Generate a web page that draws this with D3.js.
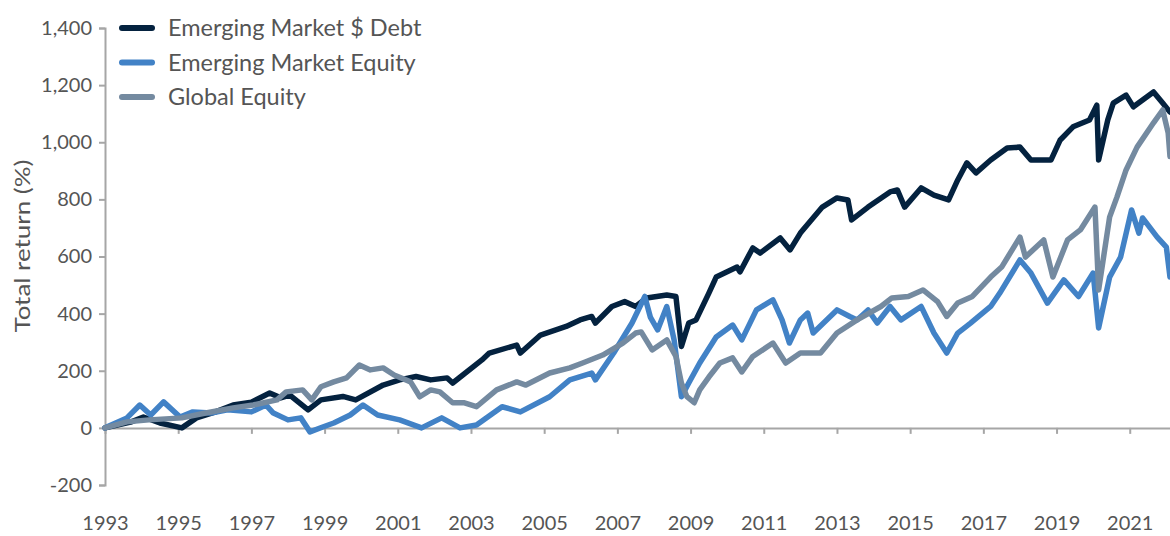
<!DOCTYPE html>
<html>
<head>
<meta charset="utf-8">
<script src="https://cdn.jsdelivr.net/npm/d3@7"></script>
<style>
  body { margin: 0; background: #fff; }
  svg { display: block; font-family: Lato, "Open Sans", sans-serif; }
</style>
</head>
<body>
<div id="container"></div>
<script>
const seriesNames = ["Emerging Market $ Debt", "Emerging Market Equity", "Global Equity"];
const seriesColors = ["#04223f", "#4282c6", "#748aa0"];

const yTicks = [-200, 0, 200, 400, 600, 800, 1000, 1200, 1400];
const xTicks = [1993, 1995, 1997, 1999, 2001, 2003, 2005, 2007, 2009, 2011, 2013, 2015, 2017, 2019, 2021];

// [year, total return %]
const emDebt = [
  [1993.0, 0], [1993.7, 20], [1994.05, 38], [1994.5, 17], [1995.1, 0], [1995.5, 35],
  [1996.0, 55], [1996.5, 80], [1997.0, 90], [1997.5, 122], [1997.8, 105], [1998.05, 115],
  [1998.55, 63], [1998.9, 98], [1999.5, 110], [1999.85, 98], [2000.6, 150], [2001.05, 168],
  [2001.5, 180], [2001.9, 168], [2002.35, 175], [2002.5, 157], [2003.3, 238], [2003.5, 262],
  [2004.25, 290], [2004.35, 262], [2004.9, 325], [2005.6, 355], [2005.98, 378], [2006.3, 390],
  [2006.4, 367], [2006.85, 425], [2007.2, 442], [2007.5, 425], [2007.8, 455], [2008.35, 465],
  [2008.6, 460], [2008.75, 285], [2008.95, 367], [2009.15, 378], [2009.5, 472], [2009.7, 528],
  [2010.27, 563], [2010.35, 546], [2010.7, 630], [2010.9, 612], [2011.45, 665], [2011.72, 623],
  [2012.0, 682], [2012.6, 773], [2013.0, 805], [2013.3, 798], [2013.4, 728], [2013.85, 773],
  [2014.45, 826], [2014.65, 833], [2014.85, 773], [2015.3, 840], [2015.65, 815], [2016.05, 798],
  [2016.3, 868], [2016.55, 928], [2016.8, 893], [2017.2, 938], [2017.65, 980], [2018.0, 983],
  [2018.3, 938], [2018.85, 938], [2019.1, 1008], [2019.45, 1054], [2019.9, 1078], [2020.1, 1130],
  [2020.15, 938], [2020.4, 1078], [2020.55, 1137], [2020.9, 1165], [2021.1, 1124], [2021.65, 1176],
  [2021.9, 1137], [2022.1, 1106]
];

const emEquity = [
  [1993.0, 0], [1993.6, 35], [1993.95, 80], [1994.25, 45], [1994.6, 91], [1995.05, 38],
  [1995.4, 56], [1995.9, 52], [1996.35, 63], [1997.0, 56], [1997.4, 80], [1997.6, 52],
  [1998.0, 28], [1998.35, 35], [1998.6, -14], [1998.95, 3], [1999.25, 17], [1999.7, 45],
  [2000.05, 80], [2000.45, 45], [2001.05, 28], [2001.65, 0], [2002.2, 35], [2002.7, 0],
  [2003.15, 10], [2003.85, 74], [2004.35, 56], [2005.15, 109], [2005.7, 168], [2006.3, 192],
  [2006.4, 168], [2006.9, 262], [2007.4, 367], [2007.75, 460], [2007.9, 388], [2008.1, 343],
  [2008.35, 425], [2008.55, 308], [2008.75, 109], [2008.95, 157], [2009.25, 227], [2009.7, 318],
  [2010.15, 360], [2010.4, 308], [2010.8, 413], [2011.25, 448], [2011.5, 378], [2011.7, 297],
  [2012.0, 378], [2012.2, 402], [2012.35, 332], [2013.0, 413], [2013.35, 390], [2013.55, 378],
  [2013.85, 413], [2014.1, 367], [2014.45, 425], [2014.75, 378], [2015.3, 425], [2015.65, 332],
  [2016.0, 262], [2016.3, 332], [2016.65, 367], [2017.2, 425], [2017.45, 472], [2018.0, 588],
  [2018.3, 542], [2018.75, 437], [2019.2, 518], [2019.6, 460], [2020.0, 542], [2020.15, 350],
  [2020.45, 528], [2020.75, 598], [2021.05, 763], [2021.25, 682], [2021.35, 735], [2021.75, 668],
  [2022.0, 633], [2022.1, 528]
];

const globalEquity = [
  [1993.0, 0], [1993.6, 21], [1994.2, 28], [1995.1, 35], [1995.75, 52], [1996.5, 70],
  [1997.05, 80], [1997.7, 98], [1997.95, 126], [1998.4, 133], [1998.65, 98], [1998.9, 144],
  [1999.25, 161], [1999.6, 175], [1999.95, 220], [2000.25, 203], [2000.6, 210], [2000.9, 185],
  [2001.35, 161], [2001.6, 109], [2001.9, 133], [2002.15, 126], [2002.5, 88], [2002.8, 88],
  [2003.15, 74], [2003.7, 133], [2004.25, 161], [2004.5, 150], [2005.15, 192], [2005.7, 210],
  [2006.05, 227], [2006.6, 255], [2007.15, 297], [2007.5, 332], [2007.65, 336], [2007.95, 273],
  [2008.35, 308], [2008.6, 250], [2008.75, 157], [2008.9, 109], [2009.1, 88], [2009.25, 133],
  [2009.5, 178], [2009.8, 227], [2010.15, 245], [2010.4, 196], [2010.7, 250], [2011.25, 297],
  [2011.6, 227], [2012.0, 262], [2012.55, 262], [2013.0, 332], [2013.55, 378], [2014.2, 425],
  [2014.5, 455], [2014.95, 460], [2015.35, 483], [2015.75, 442], [2016.0, 390], [2016.3, 437],
  [2016.7, 460], [2017.2, 528], [2017.5, 563], [2018.0, 668], [2018.15, 598], [2018.65, 658],
  [2018.9, 528], [2019.3, 658], [2019.65, 693], [2020.05, 773], [2020.15, 483], [2020.45, 738],
  [2020.65, 808], [2020.9, 903], [2021.2, 983], [2021.65, 1068], [2021.9, 1113], [2022.05, 1033],
  [2022.1, 950]
];

const allSeries = [emDebt, emEquity, globalEquity];

const w = 1170;
const h = 536;
const axisColor = "#a6a6a6";
const textColor = "#555555";

const svg = d3
  .select("#container")
  .append("svg")
  .attr("width", w)
  .attr("height", h);

const xScale = d3.scaleLinear().domain([1993, 2022.1]).range([105, 1170]);
const yScale = d3.scaleLinear().domain([-200, 1400]).range([485, 28]);

// y axis (plain hyphen for negatives, as in the original)
const yAxis = svg
  .append("g")
  .attr("transform", `translate(${xScale(1993)}, 0)`)
  .call(
    d3.axisLeft(yScale)
      .tickValues(yTicks)
      .tickSize(6)
      .tickPadding(7)
      .tickFormat((d) => d3.format(",")(d).replace("−", "-"))
  );
yAxis.select(".domain").attr("stroke", axisColor).attr("stroke-width", 2);
yAxis.selectAll(".tick line").attr("stroke", axisColor).attr("stroke-width", 2);
yAxis
  .selectAll(".tick text")
  .attr("fill", textColor)
  .style("font-size", "20px")
  .style("font-family", "Lato, sans-serif");

// x axis on the zero line, labels pushed to the bottom
const xAxis = svg
  .append("g")
  .attr("transform", `translate(0, ${yScale(0)})`)
  .call(
    d3.axisBottom(xScale)
      .tickValues(xTicks)
      .tickSize(6)
      .tickSizeOuter(0)
      .tickFormat(d3.format("d"))
  );
xAxis.select(".domain").attr("stroke", axisColor).attr("stroke-width", 2);
xAxis.selectAll(".tick line").attr("stroke", axisColor).attr("stroke-width", 2);
xAxis
  .selectAll(".tick text")
  .attr("fill", textColor)
  .attr("y", 88)
  .style("font-size", "20px")
  .style("font-family", "Lato, sans-serif");

// y axis title
svg
  .append("text")
  .attr("transform", `translate(30, 246) rotate(-90)`)
  .attr("text-anchor", "middle")
  .attr("fill", textColor)
  .attr("textLength", 173)
  .attr("lengthAdjust", "spacingAndGlyphs")
  .style("font-size", "21px")
  .text("Total return (%)");

// lines
const line = d3
  .line()
  .x((d) => xScale(d[0]))
  .y((d) => yScale(d[1]));

svg
  .selectAll("path.series")
  .data(allSeries)
  .enter()
  .append("path")
  .attr("class", "series")
  .attr("d", line)
  .attr("fill", "none")
  .attr("stroke", (d, i) => seriesColors[i])
  .attr("stroke-width", 5.5)
  .attr("stroke-linejoin", "round")
  .attr("stroke-linecap", "round");

// legend
const legend = svg
  .selectAll("g.legend")
  .data(seriesNames)
  .enter()
  .append("g")
  .attr("class", "legend")
  .attr("transform", (d, i) => `translate(122, ${28 + i * 34.5})`);

legend
  .append("line")
  .attr("x1", 0)
  .attr("x2", 30)
  .attr("stroke", (d, i) => seriesColors[i])
  .attr("stroke-width", 6)
  .attr("stroke-linecap", "round");

legend
  .append("text")
  .attr("x", 46)
  .attr("dy", "0.35em")
  .attr("fill", textColor)
  .style("font-size", "23.5px")
  .text((d) => d);
</script>
</body>
</html>
